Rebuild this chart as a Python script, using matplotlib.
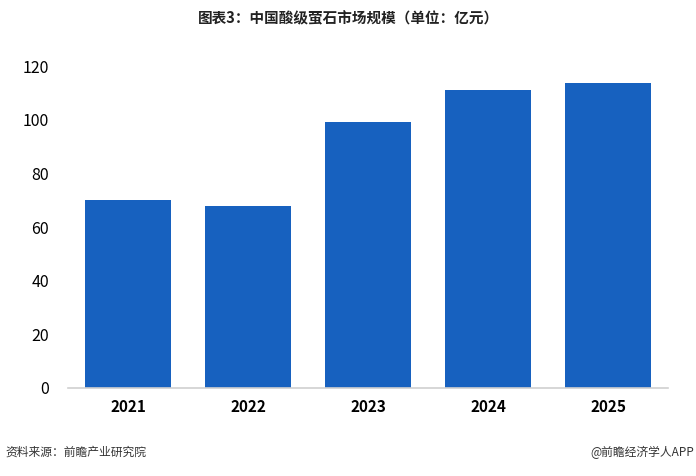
import matplotlib.pyplot as plt

plt.rcParams['font.family'] = ['Noto Sans CJK SC', 'DejaVu Sans']

years = ['2021', '2022', '2023', '2024', '2025']
market_size = [70.2, 67.8, 99.3, 111.2, 113.8]

fig = plt.figure(figsize=(6.96, 4.76), dpi=100)
ax = fig.add_axes([0.098, 0.185, 0.862, 0.676])

ax.bar(range(len(years)), market_size, width=0.72, color='#1761BF')
ax.set_xlim(-0.5, 4.5)
ax.set_ylim(0, 120)
ax.set_yticks(range(0, 121, 20))
ax.set_xticks(range(len(years)))
ax.set_xticklabels(years, fontweight='bold', fontsize=11)
ax.tick_params(axis='y', labelsize=11.5, length=0, pad=14)
ax.tick_params(axis='x', length=0, pad=8)
for s in ['top', 'right', 'left']:
    ax.spines[s].set_visible(False)
ax.spines['bottom'].set_color('#d0d0d0')
ax.spines['bottom'].set_linewidth(1.2)

fig.text(0.5, 0.962, '图表3：中国酸级萤石市场规模（单位：亿元）', ha='center', va='center',
         fontsize=10.5, fontweight='bold', color='#222222')
fig.text(0.008, 0.05, '资料来源：前瞻产业研究院', ha='left', va='center', fontsize=8.5, color='#333333')
fig.text(0.997, 0.05, '@前瞻经济学人APP', ha='right', va='center', fontsize=8.5, color='#333333')

fig.savefig('out.png', dpi=100)
